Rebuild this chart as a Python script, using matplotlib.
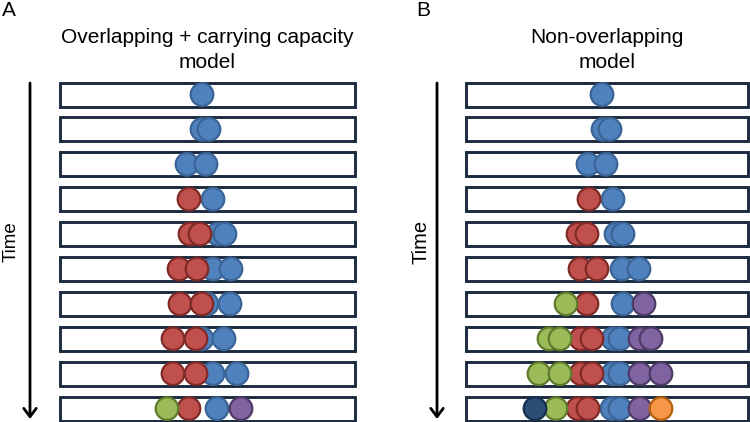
import matplotlib
matplotlib.use('Agg')
import matplotlib.pyplot as plt
from matplotlib.patches import Circle, Rectangle

plt.rcParams['font.family'] = ['Liberation Sans', 'DejaVu Sans']

# circle centres (x, in pixels of the 750x422 canvas), one list per time step
a_blue = [[202], [202, 209], [187, 206], [213], [218, 225],
          [213, 231], [207, 230], [202, 224], [213, 237], [217]]
a_red = [[], [], [], [189], [190, 200],
         [179, 197], [180, 202], [173, 196], [173, 196], [189]]
a_green = [[], [], [], [], [], [], [], [], [], [167]]
a_purple = [[], [], [], [], [], [], [], [], [], [241]]

b_blue = [[602], [603, 610], [588, 606], [613], [616, 623],
          [622, 639], [623], [613, 620], [613, 620], [612, 620]]
b_red = [[], [], [], [589], [578, 587],
         [580, 597], [587], [581, 592], [581, 592], [578, 588]]
b_green = [[], [], [], [], [], [], [566], [549, 560], [539, 560], [556]]
b_purple = [[], [], [], [], [], [], [644], [640, 651], [640, 661], [640]]
b_navy = [[], [], [], [], [], [], [], [], [], [535]]
b_orange = [[], [], [], [], [], [], [], [], [], [661]]

titles = ['Overlapping + carrying capacity\nmodel', 'Non-overlapping\nmodel']
letters = ['A', 'B']

colours = {
    'blue': ('#4F81BD', '#3A6496'),
    'red': ('#C0504D', '#7F2A27'),
    'green': ('#9BBB59', '#5E7A2A'),
    'purple': ('#8064A2', '#4E3A66'),
    'navy': ('#2C4D75', '#17304F'),
    'orange': ('#F79646', '#B3600F'),
}

panels = [
    dict(box=(60, 355), arrow_x=30, time_x=11, time_size=13.5, letter_x=2,
         series=[('blue', a_blue), ('red', a_red), ('green', a_green),
                 ('purple', a_purple)]),
    dict(box=(466, 748), arrow_x=437, time_x=421, time_size=14.5, letter_x=416,
         series=[('blue', b_blue), ('red', b_red), ('green', b_green),
                 ('purple', b_purple), ('navy', b_navy), ('orange', b_orange)]),
]

row_y0, row_step, box_h, r = 94.5, 34.9, 24, 11.3

fig = plt.figure(figsize=(7.5, 4.22), dpi=100)
ax = fig.add_axes([0, 0, 1, 1])
ax.set_xlim(0, 750)
ax.set_ylim(422, 0)
ax.axis('off')

for i, p in enumerate(panels):
    x0, x1 = p['box']
    n_rows = len(p['series'][0][1])
    for k in range(n_rows):
        y = row_y0 + k * row_step
        ax.add_patch(Rectangle((x0, y - box_h / 2), x1 - x0, box_h,
                               facecolor='white', edgecolor='#1C2A3F',
                               lw=2.1, zorder=1))
        z = 2
        for name, rows in p['series']:
            face, edge = colours[name]
            for x in rows[k]:
                ax.add_patch(Circle((x, y), r, facecolor=face, edgecolor=edge,
                                    lw=1.6, zorder=z))
                z += 1

    cx = (x0 + x1) / 2
    ax.text(cx, 50, titles[i], ha='center', va='center', fontsize=15,
            linespacing=1.4)
    ax.text(p['letter_x'], 10, letters[i], ha='left', va='center', fontsize=15)

    ax.annotate('', xy=(p['arrow_x'], 419), xytext=(p['arrow_x'], 83),
                arrowprops=dict(arrowstyle='->,head_length=0.6,head_width=0.45',
                                lw=2.0, color='black', shrinkA=0, shrinkB=0))
    ax.text(p['time_x'], 242, 'Time', rotation=90, ha='center', va='center',
            fontsize=p['time_size'])

fig.savefig('out.png', dpi=100)
